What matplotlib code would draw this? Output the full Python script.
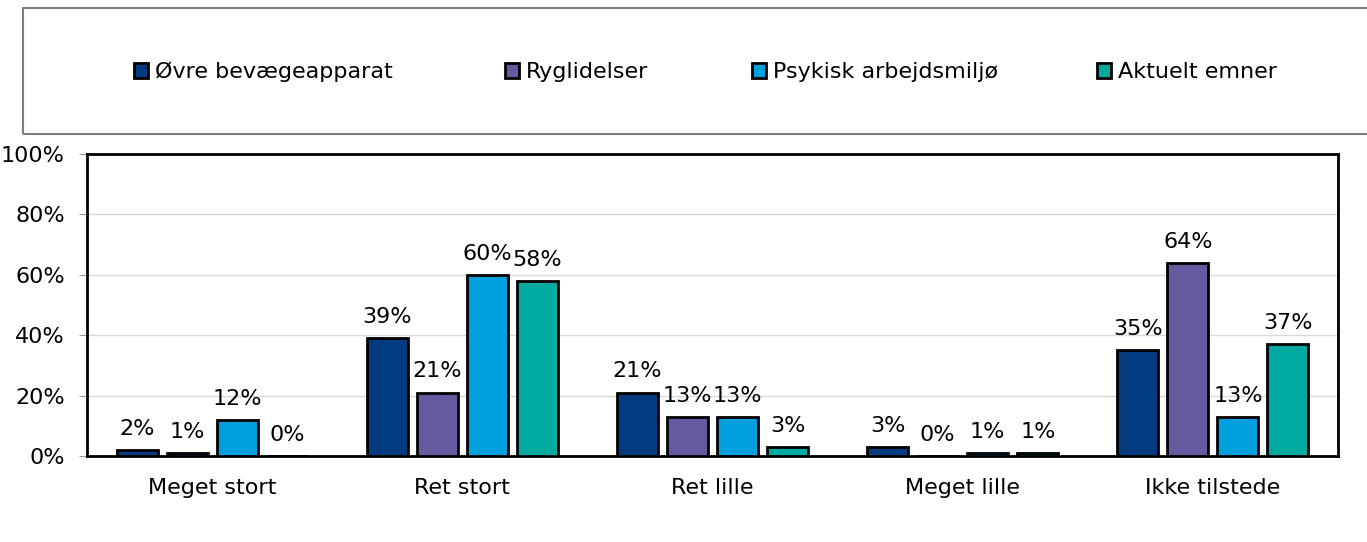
import numpy as np
import matplotlib.pyplot as plt
from matplotlib.patches import Rectangle

plt.rcParams['font.family'] = ['DejaVu Sans']

categories = ["Meget stort", "Ret stort", "Ret lille", "Meget lille", "Ikke tilstede"]
series = ["Øvre bevægeapparat", "Ryglidelser", "Psykisk arbejdsmiljø", "Aktuelt emner"]
ovre = [2, 39, 21, 3, 35]
ryg = [1, 21, 13, 0, 64]
psyk = [12, 60, 13, 1, 13]
aktuelt = [0, 58, 3, 1, 37]
colors = ["#023b80", "#655a9f", "#00a0df", "#00aaa0"]

fs = 16

fig = plt.figure(figsize=(13.67, 5.42), dpi=100)
ax = fig.add_axes([87 / 1367, 1 - 456 / 542, (1338 - 87) / 1367, (456 - 154) / 542])

x = np.arange(len(categories))
width = 0.164
offsets = [-0.3, -0.1, 0.1, 0.3]
bars = []
for vals, off, col, name in zip([ovre, ryg, psyk, aktuelt], offsets, colors, series):
    b = ax.bar(x + off, vals, width, color=col, edgecolor="black", linewidth=2, label=name, zorder=3)
    ax.bar_label(b, labels=[f"{v}%" for v in vals], padding=8, fontsize=fs)
    bars.append(b)

ax.set_xlim(-0.5, 4.5)
ax.set_ylim(0, 100)
ax.set_yticks([0, 20, 40, 60, 80, 100])
ax.set_yticklabels([f"{t}%" for t in [0, 20, 40, 60, 80, 100]], fontsize=fs)
ax.set_xticks(x)
ax.set_xticklabels(categories, fontsize=fs)
ax.tick_params(axis="x", length=0, pad=16)
ax.tick_params(axis="y", length=6, color="#999999", pad=10)
ax.yaxis.grid(True, color="#d9d9d9", linewidth=1, zorder=0)
for s in ax.spines.values():
    s.set_linewidth(2)
    s.set_color("black")

# legend box across the top
fig.patches.append(Rectangle((23 / 1367, 1 - 134 / 542), 1.1, 126 / 542, transform=fig.transFigure,
                             fill=False, edgecolor="#7f7f7f", linewidth=1.5))
leg_x = [134, 505, 752, 1097]
for b, lx in zip(bars, leg_x):
    fig.legend(handles=[b], loc="center left", bbox_to_anchor=(lx / 1367, 1 - 72 / 542),
               frameon=False, fontsize=fs, handlelength=0.65, handleheight=0.65,
               handletextpad=0.3, borderaxespad=0, borderpad=0)

fig.savefig("out.png", dpi=100)
